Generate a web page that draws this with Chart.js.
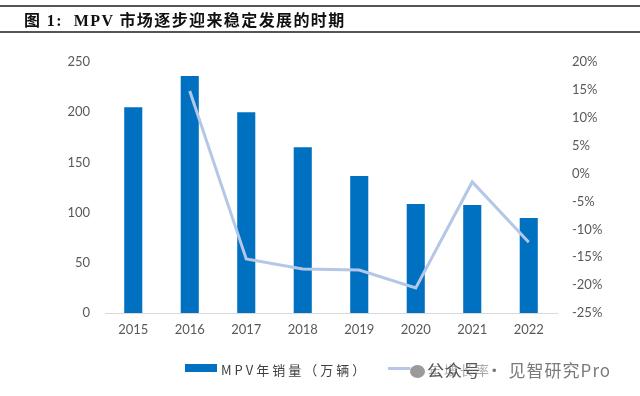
<!DOCTYPE html>
<html>
<head>
<meta charset="utf-8">
<script src="https://cdn.jsdelivr.net/npm/chart.js@4/dist/chart.umd.min.js"></script>
<style>
    body { margin: 0; background: #fff; }
    #wrap { position: relative; width: 640px; height: 396px; overflow: hidden; }
    #chart { position: absolute; left: 0; top: 0; }
    .title-bar {
        position: absolute; left: 0; top: 5px; width: 640px; height: 24px;
        border-top: 2px solid #555; border-bottom: 2px solid #555;
    }
    .title {
        position: absolute; left: 24px; top: 7px;
        font-family: "Liberation Serif", "Noto Sans CJK SC", serif;
        font-weight: bold; font-size: 16px; letter-spacing: 1.4px; color: #111; white-space: pre;
    }
    .legend { position: absolute; top: 360px; font-family: "Noto Sans CJK SC", sans-serif; font-size: 13px; letter-spacing: 3px; color: #404040; }
    .swatch-bar { position: absolute; left: 185px; top: 364px; width: 32px; height: 8px; background: #0070c0; }
    .swatch-line { position: absolute; left: 388px; top: 367px; width: 33px; height: 3px; background: #b4c7e7; }
    .watermark {
        position: absolute; left: 410px; top: 357px; height: 25px; padding-right: 4px;
        font-family: "Noto Sans CJK SC", sans-serif; font-size: 17px; letter-spacing: 1px; color: #7a7a7a;
        background: rgba(255,255,255,0.55); white-space: pre;
    }
    .wm-icon { display: inline-block; width: 15px; height: 13px; border-radius: 50%; background: #9a9a9a; vertical-align: -1px; margin-right: 2px; }
</style>
</head>
<body>
<div id="wrap">
    <canvas id="chart" width="640" height="396"></canvas>
    <div class="title-bar"></div>
    <div class="title">图 1:  MPV 市场逐步迎来稳定发展的时期</div>
    <div class="swatch-bar"></div>
    <div class="legend" style="left:221px;">MPV年销量（万辆）</div>
    <div class="swatch-line"></div>
    <div class="legend" style="left:428px;">年增长率</div>
    <div class="watermark"><span class="wm-icon"></span><span style="color:#555">公众号</span> · 见智研究Pro</div>
</div>
<script>
const years = ['2015', '2016', '2017', '2018', '2019', '2020', '2021', '2022'];
const salesValues = [205, 236, 200, 165, 136.5, 108.5, 107.5, 94.5];
const growthValues = [null, 14.8, -15.3, -17.1, -17.3, -20.5, -1.5, -12.3];
const leftTicks = [0, 50, 100, 150, 200, 250];
const rightTicks = [-25, -20, -15, -10, -5, 0, 5, 10, 15, 20];

const tickFont = { family: 'Lato, "Open Sans", sans-serif', size: 13 };

new Chart(document.getElementById('chart').getContext('2d'), {
    data: {
        labels: years,
        datasets: [{
            type: 'line',
            label: '年增长率',
            data: growthValues,
            yAxisID: 'y1',
            borderColor: '#b4c7e7',
            borderWidth: 3,
            pointRadius: 0,
            tension: 0,
            order: 0
        }, {
            type: 'bar',
            label: 'MPV年销量（万辆）',
            data: salesValues,
            yAxisID: 'y',
            backgroundColor: '#0070c0',
            barPercentage: 0.32,
            categoryPercentage: 1,
            order: 1
        }]
    },
    options: {
        responsive: false,
        animation: false,
        layout: { padding: { top: 62, bottom: 0, left: 0, right: 0 } },
        plugins: { legend: { display: false }, tooltip: { enabled: false } },
        scales: {
            x: {
                grid: { display: false, drawTicks: false },
                border: { display: true, color: '#d9d9d9', width: 1 },
                ticks: { color: '#595959', font: tickFont, padding: 9 },
                afterFit: s => { s.height = 83; }
            },
            y: {
                position: 'left',
                min: 0, max: 250,
                grid: { display: false, drawTicks: false },
                border: { display: false },
                afterBuildTicks: s => { s.ticks = leftTicks.map(v => ({ value: v })); },
                ticks: { color: '#595959', font: tickFont, padding: 15 },
                afterFit: s => { s.width = 105; }
            },
            y1: {
                position: 'right',
                min: -25, max: 20,
                grid: { display: false, drawTicks: false },
                border: { display: false },
                afterBuildTicks: s => { s.ticks = rightTicks.map(v => ({ value: v })); },
                ticks: { color: '#595959', font: tickFont, padding: 15, callback: v => v + '%' },
                afterFit: s => { s.width = 83; }
            }
        }
    }
});
</script>
</body>
</html>
